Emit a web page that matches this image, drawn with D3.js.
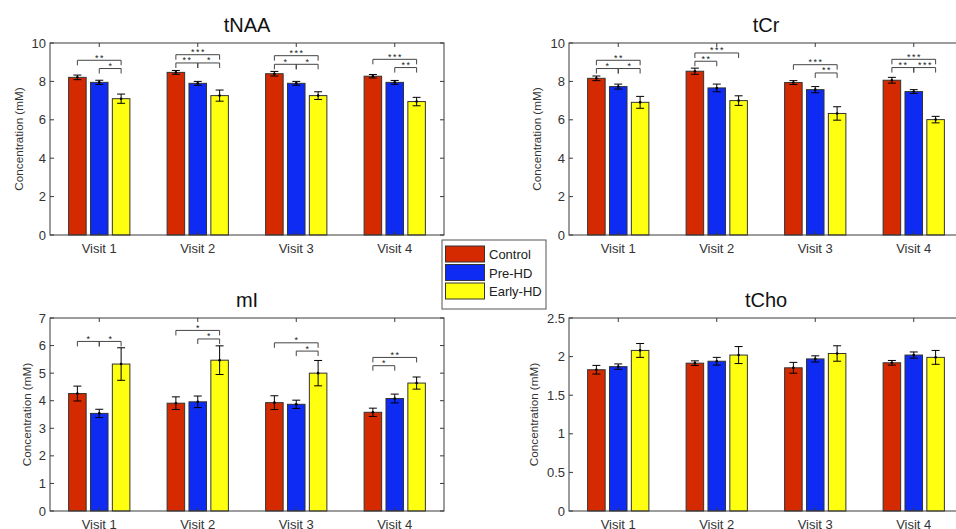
<!DOCTYPE html>
<html>
<head>
<meta charset="utf-8">
<style>
  body { margin: 0; background: #fff; }
  svg { display: block; font-family: "Liberation Sans", Arial, sans-serif; }
  .axis-box { fill: none; stroke: #3a3a3a; stroke-width: 1; }
  .tick-mark { stroke: #3a3a3a; stroke-width: 1; }
  .tick-label { fill: #333; font-size: 13px; }
  .ylabel { fill: #333; font-size: 11.7px; }
  .title { fill: #111; font-size: 20px; }
  .bar { stroke: #333; stroke-width: 1; }
  .err { stroke: #000; stroke-width: 1; fill: none; }
  .bracket { stroke: #444; stroke-width: 1; fill: none; }
  .stars { fill: #222; font-size: 9px; letter-spacing: 1.5px; }
</style>
</head>
<body>
<div class="viz"></div>
<script src="https://cdnjs.cloudflare.com/ajax/libs/d3/7.8.5/d3.min.js"></script>
<script>
// ---- data ----
var visits = ["Visit 1", "Visit 2", "Visit 3", "Visit 4"];
var groups = ["Control", "Pre-HD", "Early-HD"];
var colors = ["#d52a00", "#0d2bf2", "#ffff10"];

// means per visit: [Control, Pre-HD, Early-HD]
var tNAA_mean = [[8.21, 7.95, 7.10], [8.47, 7.90, 7.26], [8.40, 7.90, 7.26], [8.27, 7.95, 6.95]];
var tNAA_err  = [[0.12, 0.11, 0.24], [0.10, 0.10, 0.29], [0.12, 0.10, 0.20], [0.09, 0.10, 0.22]];
var tNAA_sig  = [
  [0, 0, 2, 9.10, "**"], [0, 1, 2, 8.67, "*"],
  [1, 0, 2, 9.39, "***"], [1, 0, 1, 8.96, "**"], [1, 1, 2, 8.96, "*"],
  [2, 0, 2, 9.34, "***"], [2, 0, 1, 8.89, "*"], [2, 1, 2, 8.89, "*"],
  [3, 0, 2, 9.15, "***"], [3, 1, 2, 8.72, "**"]
];

var tCr_mean = [[8.16, 7.73, 6.91], [8.53, 7.66, 7.00], [7.94, 7.57, 6.33], [8.06, 7.47, 6.01]];
var tCr_err  = [[0.12, 0.13, 0.31], [0.16, 0.20, 0.25], [0.10, 0.16, 0.35], [0.15, 0.10, 0.17]];
var tCr_sig  = [
  [0, 0, 2, 9.10, "**"], [0, 0, 1, 8.67, "*"], [0, 1, 2, 8.67, "*"],
  [1, 0, 2, 9.48, "***"], [1, 0, 1, 9.05, "**"],
  [2, 0, 2, 8.87, "***"], [2, 1, 2, 8.44, "**"],
  [3, 0, 2, 9.15, "***"], [3, 0, 1, 8.72, "**"], [3, 1, 2, 8.72, "***"]
];

var mI_mean = [[4.26, 3.54, 5.33], [3.91, 3.96, 5.47], [3.93, 3.87, 5.00], [3.58, 4.08, 4.64]];
var mI_err  = [[0.27, 0.15, 0.59], [0.23, 0.21, 0.52], [0.25, 0.15, 0.46], [0.15, 0.16, 0.22]];
var mI_sig  = [
  [0, 0, 1, 6.15, "*"], [0, 1, 2, 6.15, "*"],
  [1, 0, 2, 6.55, "*"], [1, 1, 2, 6.24, "*"],
  [2, 0, 2, 6.10, "*"], [2, 1, 2, 5.80, "*"],
  [3, 0, 2, 5.57, "**"], [3, 0, 1, 5.27, "*"]
];

var tCho_mean = [[1.83, 1.87, 2.08], [1.915, 1.94, 2.02], [1.855, 1.97, 2.04], [1.92, 2.02, 1.99]];
var tCho_err  = [[0.056, 0.035, 0.09], [0.03, 0.05, 0.11], [0.07, 0.04, 0.10], [0.03, 0.04, 0.09]];
var tCho_sig  = [];

var yTicks_10  = [0, 2, 4, 6, 8, 10];
var yTicks_7   = [0, 1, 2, 3, 4, 5, 6, 7];
var yTicks_2_5 = [0, 0.5, 1, 1.5, 2, 2.5];

// ---- layout ----
var panels = [
  { title: "tNAA", mean: tNAA_mean, err: tNAA_err, sig: tNAA_sig, ymax: 10, ticks: yTicks_10, left: 50, top: 43, bottom: 235, ylab: 31 },
  { title: "tCr", mean: tCr_mean, err: tCr_err, sig: tCr_sig, ymax: 10, ticks: yTicks_10, left: 569, top: 43, bottom: 235, ylab: 32 },
  { title: "mI", mean: mI_mean, err: mI_err, sig: mI_sig, ymax: 7, ticks: yTicks_7, left: 50, top: 318, bottom: 511, ylab: 23 },
  { title: "tCho", mean: tCho_mean, err: tCho_err, sig: tCho_sig, ymax: 2.5, ticks: yTicks_2_5, left: 569, top: 318, bottom: 511, ylab: 35 }
];
var axWidth = 394;
var barStep = 0.222, barWidth = 0.178;

var svg = d3.select(".viz").append("svg")
    .attr("width", 956)
    .attr("height", 529);

panels.forEach(function (p) {
    var x = d3.scaleLinear().domain([0.5, 4.5]).range([p.left, p.left + axWidth]);
    var y = d3.scaleLinear().domain([0, p.ymax]).range([p.bottom, p.top]);
    var g = svg.append("g");
    var xpos = function (v, j) { return x(v + 1 + (j - 1) * barStep); };

    // bars
    p.mean.forEach(function (row, v) {
        g.selectAll(null)
            .data(row)
            .enter().append("rect")
            .attr("class", "bar")
            .attr("x", function (d, j) { return xpos(v, j) - (x(barWidth) - x(0)) / 2; })
            .attr("width", x(barWidth) - x(0))
            .attr("y", function (d) { return y(d); })
            .attr("height", function (d) { return y(0) - y(d); })
            .attr("fill", function (d, j) { return colors[j]; });
    });

    // error bars
    p.mean.forEach(function (row, v) {
        row.forEach(function (m, j) {
            var cx = xpos(v, j), e = p.err[v][j], cap = 4;
            g.append("path")
                .attr("class", "err")
                .attr("d", "M" + cx + "," + y(m - e) + "V" + y(m + e) +
                    "M" + (cx - cap) + "," + y(m - e) + "H" + (cx + cap) +
                    "M" + (cx - cap) + "," + y(m + e) + "H" + (cx + cap));
            g.append("circle")
                .attr("cx", cx).attr("cy", y(m)).attr("r", 1.3)
                .attr("fill", "#000");
        });
    });

    // significance brackets
    p.sig.forEach(function (s) {
        var x1 = xpos(s[0], s[1]), x2 = xpos(s[0], s[2]), yy = y(s[3]);
        g.append("path")
            .attr("class", "bracket")
            .attr("d", "M" + x1 + "," + (yy + 5) + "V" + yy + "H" + x2 + "V" + (yy + 5));
        g.append("text")
            .attr("class", "stars")
            .attr("x", (x1 + x2) / 2 + 0.75)
            .attr("y", yy + 0.5)
            .attr("text-anchor", "middle")
            .text(s[4]);
    });

    // axes box
    g.append("rect")
        .attr("class", "axis-box")
        .attr("x", p.left).attr("y", p.top)
        .attr("width", axWidth).attr("height", p.bottom - p.top);

    // y ticks (both sides, inward)
    p.ticks.forEach(function (t) {
        g.append("path").attr("class", "tick-mark")
            .attr("d", "M" + p.left + "," + y(t) + "h4M" + (p.left + axWidth) + "," + y(t) + "h-4");
        g.append("text").attr("class", "tick-label")
            .attr("x", p.left - 4).attr("y", y(t) + 4.5)
            .attr("text-anchor", "end")
            .text(t);
    });

    // x ticks
    visits.forEach(function (name, v) {
        var xx = x(v + 1);
        g.append("path").attr("class", "tick-mark")
            .attr("d", "M" + xx + "," + p.bottom + "v-4M" + xx + "," + p.top + "v4");
        g.append("text").attr("class", "tick-label")
            .attr("x", xx).attr("y", p.bottom + 17.5)
            .attr("text-anchor", "middle")
            .text(name);
    });

    // y label
    g.append("text").attr("class", "ylabel")
        .attr("transform", "translate(" + (p.left - p.ylab + 4) + "," + ((p.top + p.bottom) / 2) + ")rotate(-90)")
        .attr("text-anchor", "middle")
        .text("Concentration (mM)");

    // title
    g.append("text").attr("class", "title")
        .attr("x", p.left + axWidth / 2).attr("y", p.top - 11)
        .attr("text-anchor", "middle")
        .text(p.title);
});

// legend
var legend = svg.append("g").attr("transform", "translate(442,240)");
legend.append("rect")
    .attr("width", 104).attr("height", 69)
    .attr("fill", "#fff").attr("stroke", "#555");
groups.forEach(function (name, i) {
    legend.append("rect")
        .attr("x", 3.5).attr("y", 6 + i * 18.5)
        .attr("width", 39).attr("height", 16)
        .attr("fill", colors[i]).attr("stroke", "#333");
    legend.append("text")
        .attr("x", 47).attr("y", 19 + i * 18.5)
        .attr("font-size", "13px").attr("fill", "#222")
        .text(name);
});
</script>
</body>
</html>
